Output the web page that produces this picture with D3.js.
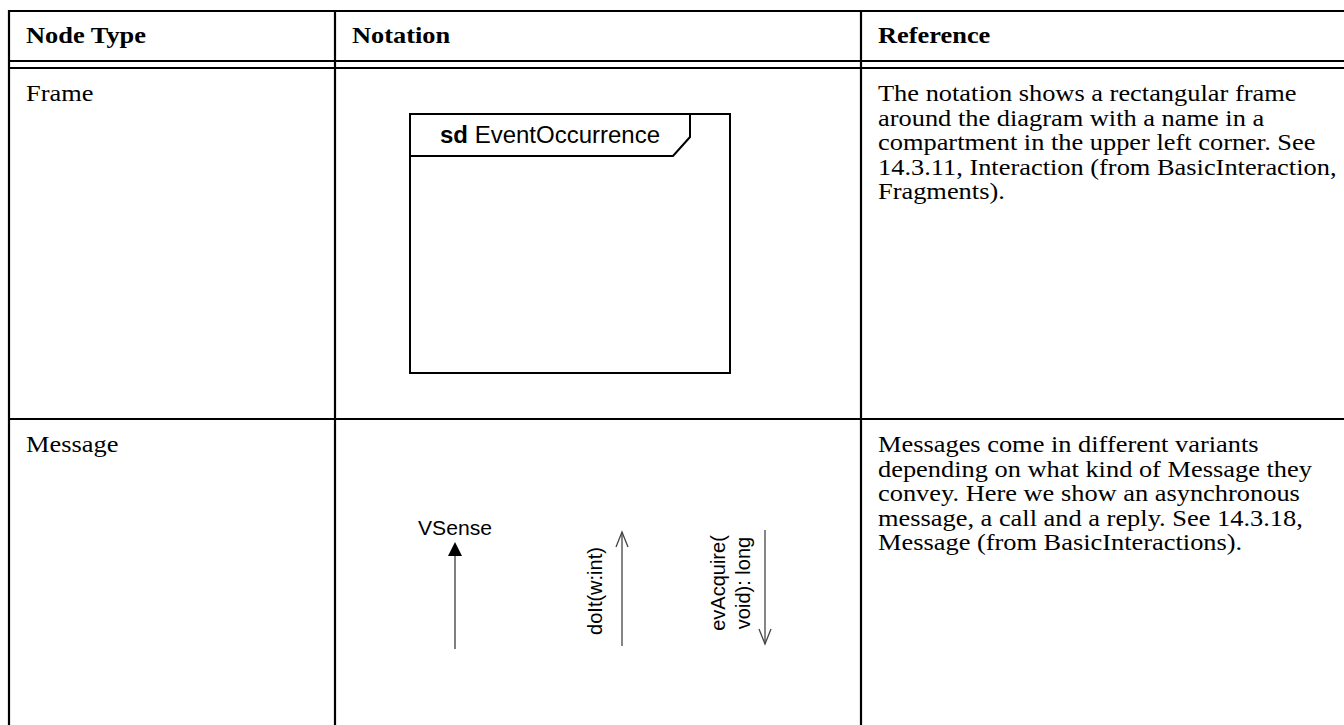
<!DOCTYPE html>
<html>
<head>
<meta charset="utf-8">
<script src="https://cdn.jsdelivr.net/npm/d3@7"></script>
<style>
  html, body { margin: 0; padding: 0; background: #fff; }
  svg { display: block; }
</style>
</head>
<body>
<svg id="chart" width="1344" height="725"></svg>
<script>
// ---- data ----
const headers = ["Node Type", "Notation", "Reference"];
const nodeTypes = ["Frame", "Message"];
const referenceLines = [
  ["The notation shows a rectangular frame",
   "around the diagram with a name in a",
   "compartment in the upper left corner. See",
   "14.3.11, Interaction (from BasicInteraction,",
   "Fragments)."],
  ["Messages come in different variants",
   "depending on what kind of Message they",
   "convey. Here we show an asynchronous",
   "message, a call and a reply. See 14.3.18,",
   "Message (from BasicInteractions)."]
];
const frameKeyword = "sd";
const frameName = "EventOccurrence";
const messageKinds = ["async", "call", "reply"];
const messageLabels = [["VSense"], ["doIt(w:int)"], ["evAcquire(", "void): long"]];

// ---- layout ----
const W = 1344, H = 725;
const svg = d3.select("#chart");
const serif = "'Liberation Serif', 'Times New Roman', serif";
const sans = "'Liberation Sans', Arial, Helvetica, sans-serif";

const colX = d3.scaleOrdinal().domain(headers).range([9, 335, 861]);
const rowY = d3.scaleOrdinal().domain(nodeTypes).range([68, 419]);
const tableTop = 11, headBottom1 = 61, headBottom2 = 68;
const pad = 17, fs = 24, lh = 24.5, sx = 1.1;

const g = svg.append("g");

function serifText(parent, x, y, txt, bold) {
  parent.append("g").attr("transform", `translate(${x},${y}) scale(${sx},1)`)
    .append("text").attr("x", 0).attr("y", 0)
    .attr("font-family", serif).attr("font-size", fs)
    .attr("font-weight", bold ? "bold" : "normal")
    .attr("fill", "#000").text(txt);
}

// horizontal rules
[tableTop, headBottom1, headBottom2, rowY("Message")].forEach(y => {
  g.append("line").attr("x1", 9).attr("x2", W).attr("y1", y).attr("y2", y)
    .attr("stroke", "#000").attr("stroke-width", 2.2);
});
// vertical rules
headers.forEach(h => {
  g.append("line").attr("x1", colX(h)).attr("x2", colX(h))
    .attr("y1", tableTop - 1).attr("y2", H)
    .attr("stroke", "#000").attr("stroke-width", 2.2);
});

// headers
headers.forEach(h => serifText(g, colX(h) + pad, 43, h, true));

// node type names and reference texts
nodeTypes.forEach((nt, i) => {
  const base = rowY(nt) + 33;
  serifText(g, colX("Node Type") + pad, base, nt, false);
  referenceLines[i].forEach((line, j) =>
    serifText(g, colX("Reference") + pad, base + j * lh, line, false));
});

// ---- Frame notation ----
const fr = { x0: 410, y0: 114, x1: 730, y1: 373, tabR: 690, tabB: 156, tabCut: 137, tabSlant: 673 };
const fg = g.append("g");
fg.append("rect").attr("x", fr.x0).attr("y", fr.y0)
  .attr("width", fr.x1 - fr.x0).attr("height", fr.y1 - fr.y0)
  .attr("fill", "none").attr("stroke", "#000").attr("stroke-width", 2);
fg.append("path")
  .attr("d", d3.line()([[fr.x0, fr.tabB], [fr.tabSlant, fr.tabB], [fr.tabR, fr.tabCut], [fr.tabR, fr.y0]]))
  .attr("fill", "none").attr("stroke", "#000").attr("stroke-width", 2);
const ft = fg.append("text").attr("x", 440).attr("y", 143)
  .attr("font-family", sans).attr("font-size", 23).attr("fill", "#000")
  .attr("textLength", 220).attr("lengthAdjust", "spacingAndGlyphs");
ft.append("tspan").attr("font-weight", "bold").text(frameKeyword);
ft.append("tspan").text(" " + frameName);

// ---- Message notation ----
const msgX = d3.scaleOrdinal().domain(messageKinds).range([455, 622, 765]);
const mg = g.append("g");
const arrowColor = "#444";
// async: filled arrow up with label above
{
  const x = msgX("async");
  mg.append("line").attr("x1", x).attr("x2", x).attr("y1", 555).attr("y2", 649)
    .attr("stroke", "#555").attr("stroke-width", 1.5);
  mg.append("path").attr("d", d3.line()([[x, 542], [x - 7, 556], [x + 7, 556]]) + "Z")
    .attr("fill", "#000");
  mg.append("text").attr("x", 418).attr("y", 535)
    .attr("font-family", sans).attr("font-size", 20).attr("fill", "#000")
    .attr("textLength", 74).attr("lengthAdjust", "spacingAndGlyphs")
    .text(messageLabels[0][0]);
}
// call: open arrow up, rotated label
{
  const x = msgX("call");
  mg.append("line").attr("x1", x).attr("x2", x).attr("y1", 532).attr("y2", 646)
    .attr("stroke", arrowColor).attr("stroke-width", 1.3);
  mg.append("path").attr("d", d3.line()([[x - 6, 547], [x, 532], [x + 6, 547]]))
    .attr("fill", "none").attr("stroke", arrowColor).attr("stroke-width", 1.3);
  mg.append("text").attr("transform", `translate(${x - 20},591) rotate(-90)`)
    .attr("text-anchor", "middle")
    .attr("font-family", sans).attr("font-size", 20).attr("fill", "#000")
    .text(messageLabels[1][0]);
}
// reply: open arrow down, two-line rotated label
{
  const x = msgX("reply");
  mg.append("line").attr("x1", x).attr("x2", x).attr("y1", 530).attr("y2", 644)
    .attr("stroke", arrowColor).attr("stroke-width", 1.3);
  mg.append("path").attr("d", d3.line()([[x - 6, 629], [x, 644], [x + 6, 629]]))
    .attr("fill", "none").attr("stroke", arrowColor).attr("stroke-width", 1.3);
  messageLabels[2].forEach((t, j) => {
    mg.append("text").attr("transform", `translate(${x - 40 + j * 25},583) rotate(-90)`)
      .attr("text-anchor", "middle")
      .attr("font-family", sans).attr("font-size", 20).attr("fill", "#000")
      .text(t);
  });
}
</script>
</body>
</html>
